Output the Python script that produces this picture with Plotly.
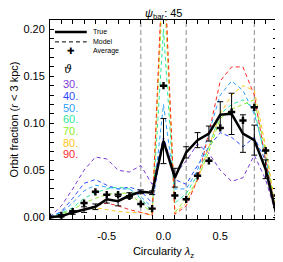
import plotly.graph_objects as go

# ---------------- data ----------------
lz = [-1.0, -0.9, -0.8, -0.7, -0.6, -0.5, -0.4, -0.3, -0.2, -0.1, 0.0,
      0.1, 0.2, 0.3, 0.4, 0.5, 0.6, 0.7, 0.8, 0.9, 1.0]

true_frac = [0.000, 0.001, 0.005, 0.008, 0.011, 0.019, 0.017, 0.023, 0.027, 0.026, 0.081,
             0.042, 0.069, 0.082, 0.089, 0.109, 0.110, 0.089, 0.082, 0.051, 0.000]
true_err = [0.0005, 0.001, 0.002, 0.003, 0.003, 0.004, 0.005, 0.003, 0.002, 0.002, 0.024,
            0.010, 0.006, 0.008, 0.008, 0.014, 0.022, 0.020, 0.016, 0.010, 0.002]
avg_frac = [0.000, 0.002, 0.006, 0.015, 0.027, 0.024, 0.024, 0.022, 0.014, 0.009, 0.140,
            0.023, 0.019, 0.044, 0.060, 0.095, 0.112, 0.103, 0.117, 0.071, 0.023]

theta_labels = ["30.", "40.", "50.", "60.", "70.", "80.", "90."]
theta_colors = ["#7b3bd8", "#2a4cff", "#2ea2ff", "#2de89c", "#8ef024", "#ffc421", "#ff2b2b"]

m30 = [0.000, 0.012, 0.030, 0.050, 0.064, 0.062, 0.050, 0.048, 0.055, 0.035, 0.085,
       0.045, 0.060, 0.078, 0.068, 0.050, 0.038, 0.042, 0.066, 0.040, 0.000]
m40 = [0.000, 0.006, 0.020, 0.036, 0.040, 0.034, 0.030, 0.032, 0.028, 0.015, 0.085,
       0.040, 0.035, 0.055, 0.075, 0.090, 0.085, 0.075, 0.085, 0.060, 0.000]
m50 = [0.000, 0.005, 0.015, 0.028, 0.034, 0.032, 0.030, 0.030, 0.022, 0.010, 0.120,
       0.030, 0.030, 0.050, 0.090, 0.130, 0.145, 0.135, 0.110, 0.065, 0.000]
m60 = [0.000, 0.004, 0.010, 0.020, 0.026, 0.030, 0.032, 0.030, 0.020, 0.006, 0.200,
       0.015, 0.025, 0.045, 0.075, 0.110, 0.120, 0.125, 0.115, 0.060, 0.000]
m70 = [0.000, 0.003, 0.008, 0.015, 0.020, 0.024, 0.026, 0.025, 0.015, 0.004, 0.260,
       0.005, 0.020, 0.040, 0.070, 0.105, 0.115, 0.120, 0.125, 0.070, 0.000]
m80 = [0.000, 0.002, 0.004, 0.008, 0.010, 0.008, 0.006, 0.005, 0.005, 0.002, 0.280,
       0.004, 0.015, 0.040, 0.075, 0.110, 0.130, 0.140, 0.135, 0.075, 0.000]
m90 = [0.000, 0.002, 0.004, 0.008, 0.012, 0.015, 0.012, 0.008, 0.005, 0.002, 0.290,
       0.003, 0.012, 0.040, 0.090, 0.145, 0.160, 0.160, 0.130, 0.060, 0.000]
models = [m30, m40, m50, m60, m70, m80, m90]

legend_labels = ["True", "Model", "Average"]
vlines = [-0.2, 0.2, 0.8]
xtick_vals = [-0.5, 0.0, 0.5]
xtick_text = ["-0.5", "0.0", "0.5"]
ytick_vals = [0.00, 0.05, 0.10, 0.15, 0.20]
ytick_text = ["0.00", "0.05", "0.10", "0.15", "0.20"]

FONT = "Liberation Sans, Arial, Helvetica, sans-serif"
DASH = "4px,3px"

fig = go.Figure()

for m, c in zip(models, theta_colors):
    fig.add_trace(go.Scatter(x=lz, y=m, mode="lines", showlegend=False,
                             line=dict(color=c, width=1, dash=DASH),
                             hoverinfo="skip"))

fig.add_trace(go.Scatter(x=lz, y=true_frac, mode="lines", name="True", showlegend=False,
                         line=dict(color="black", width=2.5),
                         error_y=dict(type="data", array=true_err, color="black",
                                      thickness=1, width=3)))
fig.add_trace(go.Scatter(x=lz, y=avg_frac, mode="markers", name="Average",
                         showlegend=False,
                         marker=dict(symbol="cross", size=6, color="black",
                                     line=dict(width=0))))

for v in vlines:
    fig.add_shape(type="line", xref="x", yref="paper", x0=v, x1=v, y0=0, y1=1,
                  line=dict(color="#8c8c8c", width=1, dash="5px,3px"), layer="below")

# ---- manual legend (compact, like the original) ----
leg_y = [0.94, 0.89, 0.842]
fig.add_shape(type="line", xref="paper", yref="paper", x0=0.022, x1=0.162,
              y0=leg_y[0], y1=leg_y[0], line=dict(color="black", width=2.5))
fig.add_shape(type="line", xref="paper", yref="paper", x0=0.022, x1=0.162,
              y0=leg_y[1], y1=leg_y[1], line=dict(color="black", width=1, dash=DASH))
fig.add_annotation(xref="paper", yref="paper", x=0.092, y=leg_y[2], xanchor="center",
                   yanchor="middle", showarrow=False, text="✚",
                   font=dict(family="DejaVu Sans", size=9, color="black"))
for lab, yy in zip(legend_labels, leg_y):
    fig.add_annotation(xref="paper", yref="paper", x=0.18, y=yy, xanchor="left",
                       yanchor="middle", showarrow=False, text=lab,
                       font=dict(family=FONT, size=7, color="black"))

# theta list
fig.add_annotation(xref="paper", yref="paper", x=0.055, y=0.752, xanchor="left",
                   yanchor="middle", showarrow=False, text="<i>ϑ</i>",
                   font=dict(family="DejaVu Serif, serif", size=11, color="black"))
for i, (lab, c) in enumerate(zip(theta_labels, theta_colors)):
    fig.add_annotation(xref="paper", yref="paper", x=0.048, y=0.676 - i * 0.0585,
                       xanchor="left", yanchor="middle", showarrow=False, text=lab,
                       font=dict(family=FONT, size=11, color=c))

# title as annotation in the top margin (kept inside the figure so it is not clipped)
fig.add_annotation(xref="paper", yref="paper", x=0.5, y=1.06, xanchor="center",
                   yanchor="top", showarrow=False, borderpad=0, yshift=2,
                   text="<i>ψ</i><sub>bar</sub>: 45",
                   font=dict(family=FONT, size=11, color="black"))

axis_common = dict(showgrid=False, zeroline=False, showline=True, linecolor="black",
                   linewidth=1, mirror="ticks", ticks="inside", ticklen=4,
                   tickcolor="black", automargin=False,
                   tickfont=dict(family=FONT, size=11, color="black"))

fig.update_xaxes(range=[-1.0, 1.0], tickvals=xtick_vals, ticktext=xtick_text,
                 ticklabelstandoff=7,
                 minor=dict(dtick=0.1, ticks="inside", ticklen=4, tickcolor="black"),
                 title=dict(text="Circularity <i>λ</i><sub>z</sub>", standoff=6,
                            font=dict(family=FONT, size=11, color="black")),
                 **axis_common)
fig.update_yaxes(range=[-0.002, 0.21], tickvals=ytick_vals, ticktext=ytick_text,
                 ticklabelstandoff=2,
                 minor=dict(dtick=0.01, ticks="inside", ticklen=4, tickcolor="black"),
                 title=dict(text="Orbit fraction (<i>r</i> < 3 kpc)", standoff=14,
                            font=dict(family=FONT, size=11, color="black")),
                 **axis_common)

# the page body adds an 8px offset, so the margins are shifted to compensate
fig.update_layout(
    width=283, height=262,
    margin=dict(l=42, r=14, t=12, b=51),
    paper_bgcolor="white", plot_bgcolor="white",
    showlegend=False,
)

fig.write_html("out.html")
